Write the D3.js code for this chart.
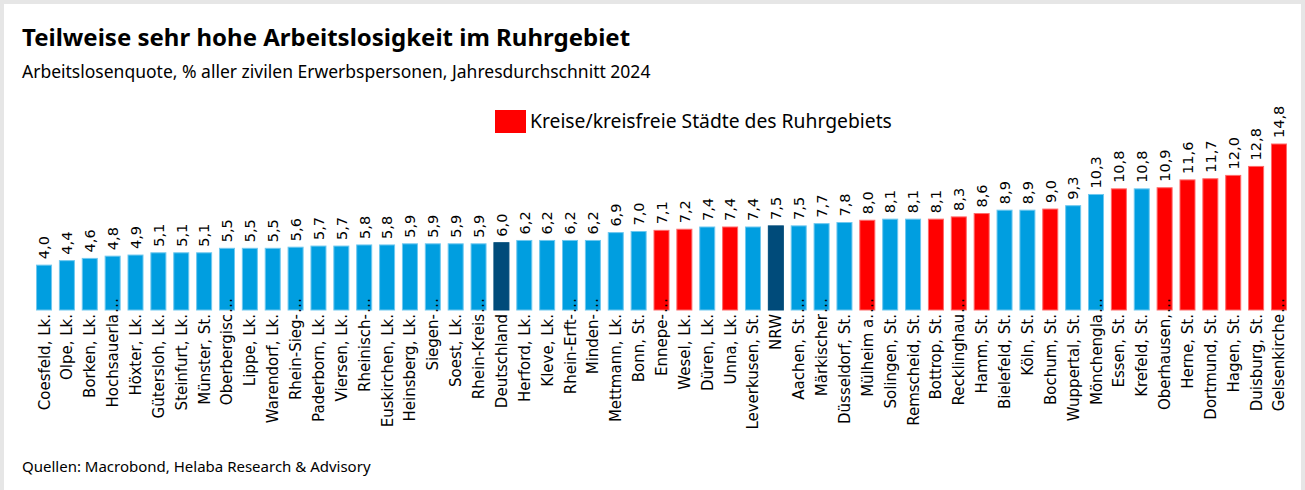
<!DOCTYPE html>
<html>
<head>
<meta charset="utf-8">
<script src="https://cdn.jsdelivr.net/npm/d3@7"></script>
<style>
  body { margin: 0; background: #e6e6e6; }
  svg { display: block; }
</style>
</head>
<body>
<svg id="chart" width="1305" height="490"></svg>
<script>
// Labels as printed (truncated ones end with the ellipsis)
const labels = [
  'Coesfeld, Lk.', 'Olpe, Lk.', 'Borken, Lk.', 'Hochsauerla…', 'Höxter, Lk.',
  'Gütersloh, Lk.', 'Steinfurt, Lk.', 'Münster, St.', 'Oberbergisc…', 'Lippe, Lk.',
  'Warendorf, Lk.', 'Rhein-Sieg-…', 'Paderborn, Lk.', 'Viersen, Lk.', 'Rheinisch-…',
  'Euskirchen, Lk.', 'Heinsberg, Lk.', 'Siegen-…', 'Soest, Lk.', 'Rhein-Kreis…',
  'Deutschland', 'Herford, Lk.', 'Kleve, Lk.', 'Rhein-Erft-…', 'Minden-…',
  'Mettmann, Lk.', 'Bonn, St.', 'Ennepe-…', 'Wesel, Lk.', 'Düren, Lk.',
  'Unna, Lk.', 'Leverkusen, St.', 'NRW', 'Aachen, St.…', 'Märkischer…',
  'Düsseldorf, St.', 'Mülheim a.…', 'Solingen, St.', 'Remscheid, St.', 'Bottrop, St.',
  'Recklinghau…', 'Hamm, St.', 'Bielefeld, St.', 'Köln, St.', 'Bochum, St.',
  'Wuppertal, St.', 'Mönchengla…', 'Essen, St.', 'Krefeld, St.', 'Oberhausen,…',
  'Herne, St.', 'Dortmund, St.', 'Hagen, St.', 'Duisburg, St.', 'Gelsenkirche…'
]

const values = [
  4.0, 4.4, 4.6, 4.8, 4.9, 5.1, 5.1, 5.1, 5.5, 5.5,
  5.5, 5.6, 5.7, 5.7, 5.8, 5.8, 5.9, 5.9, 5.9, 5.9,
  6.0, 6.2, 6.2, 6.2, 6.2, 6.9, 7.0, 7.1, 7.2, 7.4,
  7.4, 7.4, 7.5, 7.5, 7.7, 7.8, 8.0, 8.1, 8.1, 8.1,
  8.3, 8.6, 8.9, 8.9, 9.0, 9.3, 10.3, 10.8, 10.8, 10.9,
  11.6, 11.7, 12.0, 12.8, 14.8
]

// r = Ruhrgebiet, a = aggregate (Deutschland / NRW), o = other
const groups = [
  'o', 'o', 'o', 'o', 'o', 'o', 'o', 'o', 'o', 'o',
  'o', 'o', 'o', 'o', 'o', 'o', 'o', 'o', 'o', 'o',
  'a', 'o', 'o', 'o', 'o', 'o', 'o', 'r', 'r', 'o',
  'r', 'o', 'a', 'o', 'o', 'o', 'r', 'o', 'o', 'r',
  'r', 'r', 'o', 'o', 'r', 'o', 'o', 'r', 'o', 'r',
  'r', 'r', 'r', 'r', 'r'
]

const title = 'Teilweise sehr hohe Arbeitslosigkeit im Ruhrgebiet'
const subtitle = 'Arbeitslosenquote, % aller zivilen Erwerbspersonen, Jahresdurchschnitt 2024'
const legendLabel = 'Kreise/kreisfreie Städte des Ruhrgebiets'
const source = 'Quellen: Macrobond, Helaba Research & Advisory'

const fillColors = { o: '#009ee0', a: '#004b7a', r: '#ff0000' }
const strokeColors = { o: '#6fc8ef', a: '#004b7a', r: '#ff6a6a' }

const data = labels.map((label, i) => ({ label, value: values[i], group: groups[i], i }))

const svg = d3.select('#chart')
const headFont = '"Noto Sans", sans-serif'
const axisFont = '"DejaVu Sans", sans-serif'

// white panel inside the grey frame
svg.append('rect').attr('x', 4).attr('y', 4).attr('width', 1297).attr('height', 486).attr('fill', '#fff')

svg.append('text').attr('x', 22).attr('y', 46)
  .attr('font-family', headFont).attr('font-weight', 700).attr('font-size', 24)
  .attr('fill', '#000').text(title)

svg.append('text').attr('x', 22).attr('y', 78)
  .attr('font-family', headFont).attr('font-size', 17.5)
  .attr('fill', '#000').text(subtitle)

// legend
const legend = svg.append('g').attr('transform', 'translate(495,110)')
legend.append('rect').attr('width', 31).attr('height', 23).attr('fill', fillColors.r)
legend.append('text').attr('x', 35).attr('y', 18)
  .attr('font-family', headFont).attr('font-size', 19.3).attr('fill', '#000').text(legendLabel)

svg.append('text').attr('x', 22).attr('y', 472)
  .attr('font-family', headFont).attr('font-size', 15)
  .attr('fill', '#000').text(source)

// scales
const xScale = d3.scaleBand()
  .domain(data.map(d => d.i))
  .range([32.6, 1290.4])
  .paddingInner(0.3)
  .paddingOuter(0.15)

const yScale = d3.scaleLinear()
  .domain([0, 14.8])
  .range([310, 144])

const graph = svg.append('g')

graph.selectAll('rect.bar')
  .data(data)
  .enter()
  .append('rect')
  .attr('class', 'bar')
  .attr('x', d => xScale(d.i) + 0.5)
  .attr('y', d => yScale(d.value))
  .attr('width', xScale.bandwidth() - 1)
  .attr('height', d => yScale(0) - yScale(d.value))
  .attr('fill', d => fillColors[d.group])
  .attr('stroke', d => strokeColors[d.group])
  .attr('stroke-width', 1)

const fmt = v => d3.format('.1f')(v).replace('.', ',')

// value labels above bars
graph.selectAll('text.value')
  .data(data)
  .enter()
  .append('text')
  .attr('class', 'value')
  .attr('transform', d => 'translate(' + (xScale(d.i) + xScale.bandwidth() / 2 + 5.3) + ',' + (yScale(d.value) - 6) + ') rotate(-90)')
  .attr('font-family', axisFont).attr('font-size', 14.5).attr('fill', '#000')
  .text(d => fmt(d.value))

// category labels below the bars
const catY = 314
const cats = graph.selectAll('g.cat')
  .data(data)
  .enter()
  .append('g')
  .attr('class', 'cat')
  .attr('transform', d => 'translate(' + (xScale(d.i) + xScale.bandwidth() / 2 + 5.5) + ',' + catY + ') rotate(-90)')
  .attr('font-family', axisFont).attr('font-size', 15).attr('fill', '#000')

cats.append('text')
  .attr('text-anchor', 'end')
  .text(d => d.label.replace('…', ''))

// the ellipsis of truncated names runs on into the bar
cats.filter(d => d.label.endsWith('…'))
  .append('text')
  .attr('x', 1)
  .text('…')
</script>
</body>
</html>
